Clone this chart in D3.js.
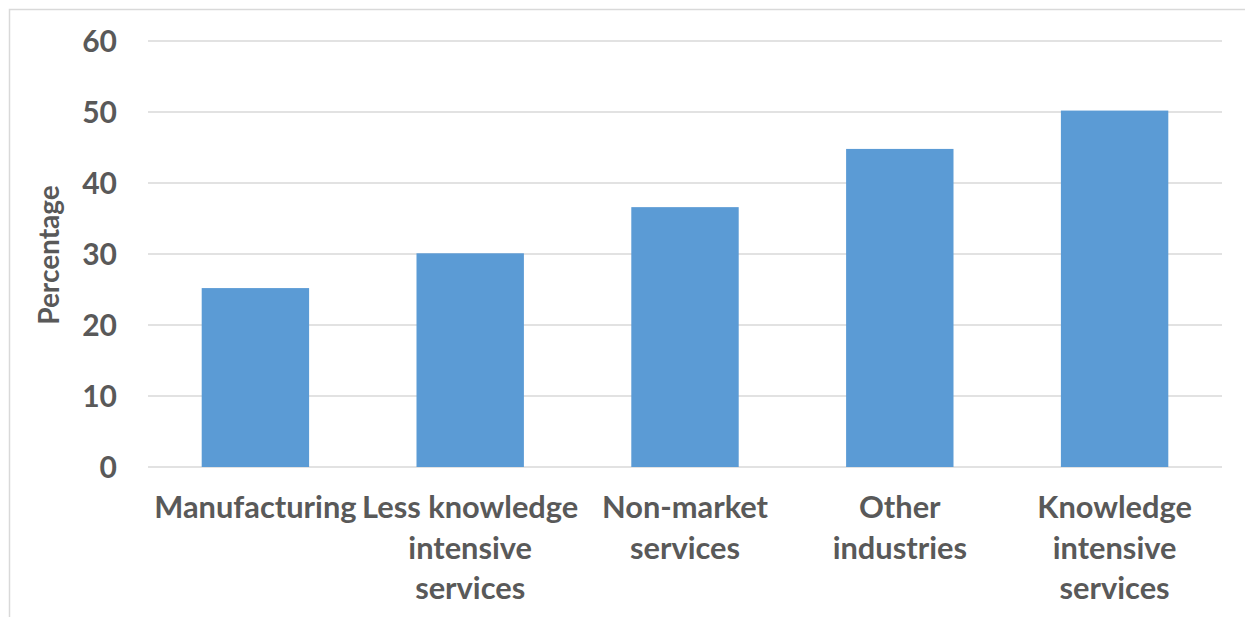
<!DOCTYPE html>
<html>
<head>
<meta charset="utf-8">
<script src="https://cdn.jsdelivr.net/npm/d3@7"></script>
<style>
  html, body { margin: 0; padding: 0; background: #fff; }
  svg { display: block; }
  text { font-family: Lato, "Open Sans", sans-serif; font-weight: 700; fill: #595959; }
</style>
</head>
<body>
<svg id="chart" width="1245" height="617"></svg>
<script>
// Share of each sector (percent)
const categories = [
  ["Manufacturing"],
  ["Less knowledge", "intensive", "services"],
  ["Non-market", "services"],
  ["Other", "industries"],
  ["Knowledge", "intensive", "services"]
];
const values = [25.2, 30.1, 36.6, 44.8, 50.2];
const yTicks = [0, 10, 20, 30, 40, 50, 60];
const yTitle = "Percentage";

const svg = d3.select("#chart");
const W = 1245, H = 617;
const plot = { left: 148, right: 1222, top: 41, bottom: 467 };

// chart area frame
svg.append("rect")
  .attr("x", 9.5).attr("y", 9.5)
  .attr("width", W + 10).attr("height", H + 10)
  .attr("fill", "#fff").attr("stroke", "#d9d9d9").attr("stroke-width", 1.5);

const x = d3.scaleBand()
  .domain(d3.range(categories.length))
  .range([plot.left, plot.right])
  .paddingInner(0.5).paddingOuter(0.25);

const y = d3.scaleLinear().domain([0, 60]).range([plot.bottom, plot.top]);

// horizontal gridlines
svg.append("g")
  .selectAll("line")
  .data(yTicks)
  .join("line")
  .attr("x1", plot.left).attr("x2", plot.right)
  .attr("y1", d => y(d)).attr("y2", d => y(d))
  .attr("stroke", "#d9d9d9").attr("stroke-width", 1.5);

// bars
svg.append("g")
  .selectAll("rect")
  .data(values)
  .join("rect")
  .attr("x", (d, i) => x(i))
  .attr("width", x.bandwidth())
  .attr("y", d => y(d))
  .attr("height", d => y(0) - y(d))
  .attr("fill", "#5b9bd5");

// y axis labels
const yAxis = d3.axisLeft(y).tickValues(yTicks).tickSize(0).tickPadding(0);
const yg = svg.append("g")
  .attr("transform", `translate(${plot.left - 31},0)`)
  .call(yAxis);
yg.select(".domain").remove();
yg.selectAll("text")
  .style("font-family", "Lato, sans-serif")
  .style("font-weight", 700)
  .style("font-size", "30px")
  .attr("fill", "#595959")
  .attr("dy", "0.36em");

// category labels, one tspan per line
const labels = svg.append("g")
  .selectAll("text")
  .data(categories)
  .join("text")
  .attr("text-anchor", "middle")
  .attr("x", (d, i) => x(i) + x.bandwidth() / 2)
  .attr("y", 518)
  .style("font-size", "30.8px");
labels.selectAll("tspan")
  .data(d => d)
  .join("tspan")
  .attr("x", function () { return this.parentNode.getAttribute("x"); })
  .attr("dy", (d, i) => i === 0 ? 0 : 40.5)
  .text(d => d);

// y axis title
svg.append("text")
  .attr("transform", `translate(59,255) rotate(-90)`)
  .attr("text-anchor", "middle")
  .style("font-size", "28px")
  .text(yTitle);
</script>
</body>
</html>
